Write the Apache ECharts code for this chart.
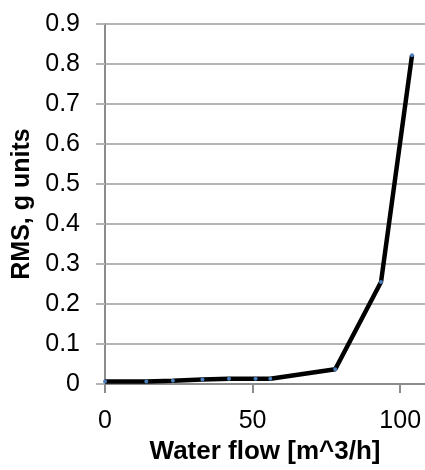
<!DOCTYPE html>
<html>
<head>
<meta charset="utf-8">
<script src="https://cdn.jsdelivr.net/npm/echarts@6/dist/echarts.min.js"></script>
<style>html,body{margin:0;padding:0;background:#fff;}#c{width:425px;height:470px;}</style>
</head>
<body>
<div id="c"></div>
<script>
const flow = [0, 14, 23, 33, 42, 51, 56, 78, 93.5, 104];
const rms = [0.0065, 0.0065, 0.008, 0.011, 0.013, 0.013, 0.013, 0.037, 0.255, 0.822];
const xTicks = [0, 50, 100];
const xName = 'Water flow [m^3/h]';
const yName = 'RMS, g units';

const chart = echarts.init(document.getElementById('c'), null, {renderer: 'canvas'});
const font = '"Liberation Sans", Arial, sans-serif';
chart.setOption({
  animation: false,
  backgroundColor: '#fff',
  grid: {left: 105, right: 0, top: 24, bottom: 86, containLabel: false},
  xAxis: {
    type: 'value', min: 0, max: 108.4,
    name: xName, nameLocation: 'middle', nameGap: 52,
    nameTextStyle: {fontFamily: font, fontSize: 26, fontWeight: 'bold', color: '#000'},
    axisLine: {show: true, onZero: false, lineStyle: {color: '#8c8c8c', width: 2}},
    axisTick: {show: true, inside: false, length: 9, customValues: xTicks, lineStyle: {color: '#8c8c8c', width: 2}},
    axisLabel: {customValues: xTicks, margin: 25, fontFamily: font, fontSize: 25, color: '#000'},
    splitLine: {show: false}
  },
  yAxis: {
    type: 'value', min: 0, max: 0.9, interval: 0.1,
    name: yName, nameLocation: 'middle', nameGap: 68,
    nameTextStyle: {fontFamily: font, fontSize: 25, fontWeight: 'bold', color: '#000'},
    axisLine: {show: true, lineStyle: {color: '#8c8c8c', width: 2}},
    axisTick: {show: true, inside: false, length: 9, lineStyle: {color: '#b4b4b4', width: 2}},
    axisLabel: {margin: 25, fontFamily: font, fontSize: 25, color: '#000'},
    splitLine: {show: true, lineStyle: {color: '#b4b4b4', width: 2}}
  },
  series: [{
    type: 'line',
    data: flow.map((x, i) => [x, rms[i]]),
    symbol: 'circle', symbolSize: 4,
    itemStyle: {color: '#4a7ebb'},
    lineStyle: {color: '#000', width: 4.5},
    clip: false
  }]
});
</script>
</body>
</html>
